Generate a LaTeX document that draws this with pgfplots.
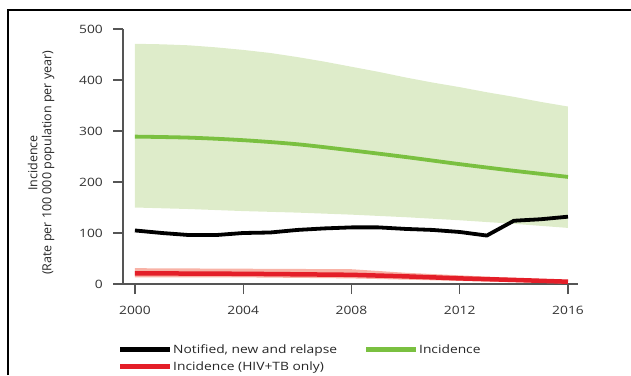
\documentclass[border=0pt]{standalone}
\usepackage{pgfplots}
\pgfplotsset{compat=1.18}
\usepackage{graphicx}
\usepackage{fontspec}
\setmainfont{Open Sans}
\newcommand{\wide}[1]{\scalebox{1.2}[1]{#1}}
\definecolor{bandgreen}{RGB}{222,236,202}
\definecolor{linegreen}{RGB}{122,192,64}
\definecolor{linered}{RGB}{228,30,40}
\definecolor{bandred}{RGB}{248,178,166}
\definecolor{axgray}{RGB}{85,85,85}
\begin{document}
\begin{tikzpicture}[x=1bp,y=1bp]
\path[use as bounding box] (0,0) rectangle (631,375);
\draw[line width=1.4bp] (8,0) -- (8,365) -- (631,365);
\begin{axis}[
  at={(123bp,91bp)}, anchor=origin,
  scale only axis, width=455bp, height=255bp,
  xmin=1999.56, xmax=2016.37, ymin=0, ymax=500,
  axis lines=left, axis line style={-, axgray, line width=1.3bp},
  tick align=outside,
  major tick length=10bp,
  xtick={2000,2004,2008,2012,2016},
  xticklabels={\wide{2000},\wide{2004},\wide{2008},\wide{2012},\wide{2016}},
  ytick={0,100,200,300,400,500},
  yticklabels={\wide{0},\wide{100},\wide{200},\wide{300},\wide{400},\wide{500}},
  tick style={axgray, line width=1.2bp},
  ticklabel style={font=\fontsize{11.5bp}{13bp}\selectfont, text=black!80},
  xticklabel style={inner sep=0pt, yshift=-12bp},
  yticklabel style={inner sep=0pt, xshift=-10bp},
  ylabel={Incidence\\(Rate per 100 000 population per year)},
  ylabel style={at={(axis description cs:-0.18,0.475)}, anchor=center, align=center,
    font=\fontsize{12.5bp}{14bp}\selectfont, text=black!85},
  legend columns=2,
  legend cell align=left,
  legend style={at={(axis description cs:-0.012,-0.23)}, anchor=north west,
    draw=none, fill=none, inner sep=0pt, row sep=4bp,
    font=\fontsize{11.5bp}{13bp}\selectfont, text=black!85,
    nodes={inner sep=1.5bp},
    /tikz/every odd column/.append style={column sep=-1bp},
    /tikz/every even column/.append style={column sep=25bp}},
  legend image code/.code={\draw[#1, line width=5bp] (0bp,0bp) -- (50bp,0bp);},
  clip=false,
]
% green band
\addplot[draw=none, fill=bandgreen, forget plot] coordinates {
 (2000,471) (2001,470) (2002,468) (2003,464) (2004,459) (2005,453) (2006,445) (2007,436) (2008,426)
 (2009,416) (2010,405) (2011,395) (2012,386) (2013,376) (2014,367) (2015,357) (2016,348)
 (2016,110) (2014,118) (2012,125) (2010,131) (2008,136) (2006,140) (2004,143) (2002,147) (2000,150)
} -- cycle;
% red band
\addplot[draw=none, fill=bandred, forget plot] coordinates {
 (2000,31) (2004,30) (2008,29) (2010,22) (2012,17) (2014,12) (2016,8)
 (2016,1) (2012,6) (2008,11) (2004,13) (2000,13)
} -- cycle;
% notified
\addplot[black, line width=3.8bp, line join=round] coordinates {
 (2000,105) (2001,100) (2002,96) (2003,96) (2004,100) (2005,101) (2006,106) (2007,109) (2008,111)
 (2009,111) (2010,108) (2011,106) (2012,102) (2013,95) (2014,124) (2015,127) (2016,132)
};
\addlegendentry{\wide{Notified, new and relapse}}
% incidence
\addplot[linegreen, line width=3.8bp, line join=round, smooth] coordinates {
 (2000,289) (2002,287) (2004,282) (2006,274) (2008,262) (2010,249) (2012,235) (2014,222) (2016,210)
};
\addlegendentry{\wide{Incidence}}
% HIV+TB
\addplot[linered, line width=4.5bp, line join=round] coordinates {
 (2000,21) (2004,20) (2008,18) (2010,15) (2012,11) (2014,8) (2016,4.5)
};
\addlegendentry{\wide{Incidence (HIV+TB only)}}
\end{axis}
\end{tikzpicture}
\end{document}
